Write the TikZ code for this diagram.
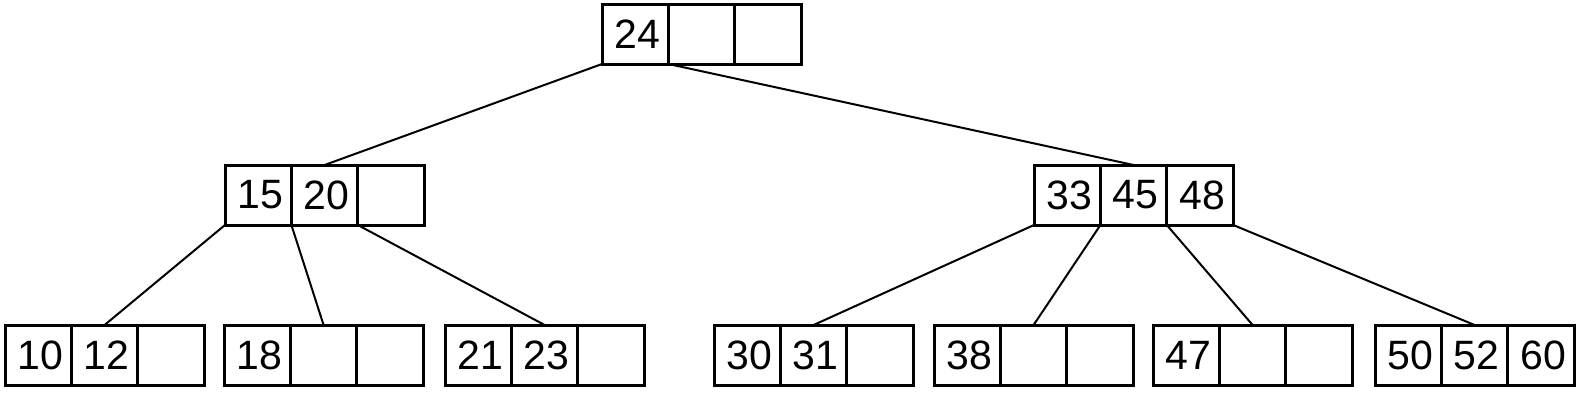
\documentclass[tikz,border=0pt]{standalone}
\usepackage{fontspec}
\setmainfont{Liberation Sans}
\usepackage{tikz}
\usetikzlibrary{positioning}

% one B-tree node: three key cells side by side
\newcommand{\keynode}[5]{%
  \node[cell,anchor=north west] (#1-1) at #2 {#3};
  \node[cell,right=0pt of #1-1] (#1-2) {#4};
  \node[cell,right=0pt of #1-2] (#1-3) {#5};}

\tikzset{
  cell/.style={draw,line width=1.5pt,minimum width=33.2pt,minimum height=30pt,
    inner sep=0pt,outer sep=0pt,
    font=\fontsize{20.5pt}{21pt}\selectfont\hspace*{2pt}},
  edge/.style={line width=1pt}
}

\begin{document}
\begin{tikzpicture}[x=0.5pt,y=-0.5pt]
  \useasboundingbox (0,0) rectangle (1581,392);
  % root
  \keynode{root}{(602,4)}{24}{}{}
  % inner nodes
  \keynode{n15}{(225,165)}{15}{20}{}
  \keynode{n33}{(1034,165)}{33}{45}{48}
  % leaves
  \keynode{n10}{(5,325)}{10}{12}{}
  \keynode{n18}{(224,325)}{18}{}{}
  \keynode{n21}{(445,325)}{21}{23}{}
  \keynode{n30}{(714,325)}{30}{31}{}
  \keynode{n38}{(934,325)}{38}{}{}
  \keynode{n47}{(1153,325)}{47}{}{}
  \keynode{n50}{(1375,325)}{50}{52}{60}
  % child pointers
  \draw[edge] (root-1.south west) -- (n15-2.north);
  \draw[edge] (root-1.south east) -- (n33-2.north);
  \draw[edge] (n15-1.south west) -- (n10-2.north);
  \draw[edge] (n15-1.south east) -- (n18-2.north);
  \draw[edge] (n15-2.south east) -- (n21-2.north);
  \draw[edge] (n33-1.south west) -- (n30-2.north);
  \draw[edge] (n33-1.south east) -- (n38-2.north);
  \draw[edge] (n33-2.south east) -- (n47-2.north);
  \draw[edge] (n33-3.south east) -- (n50-2.north);
\end{tikzpicture}
\end{document}
